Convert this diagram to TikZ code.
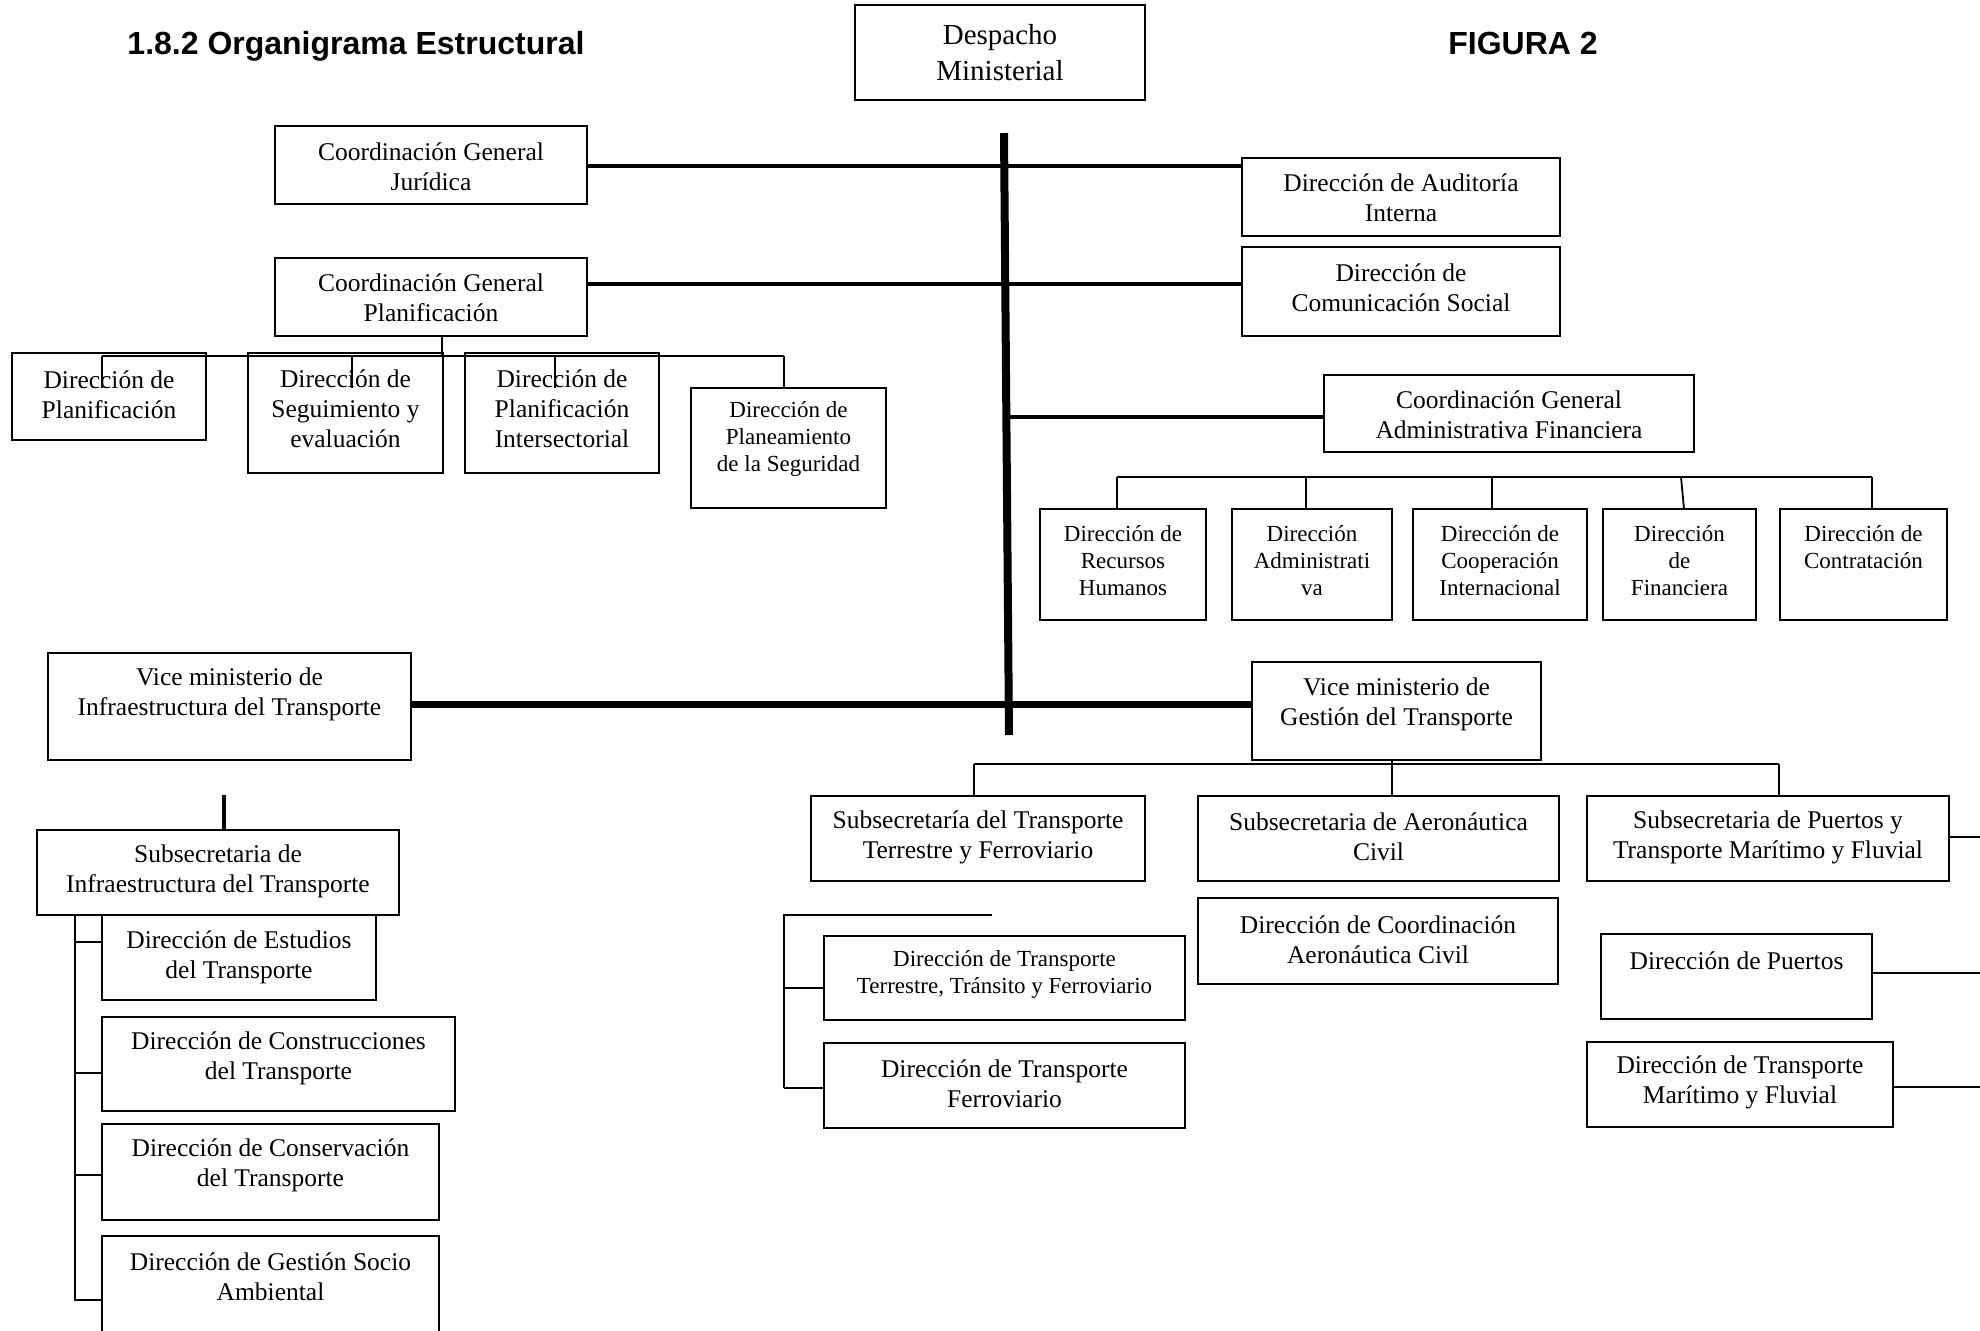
\documentclass[tikz,border=0pt]{standalone}
\usepackage{fontspec}
\setmainfont{Liberation Serif}
\newfontfamily\titlesans{Liberation Sans}
\usetikzlibrary{fit}
\tikzset{
  box/.style={draw, line width=1pt, inner sep=0pt, rectangle},
  txt/.style={inner sep=0pt, align=center},
  fmain/.style={font=\fontsize{12.75}{15}\selectfont},
  fsmall/.style={font=\fontsize{11.5}{13.5}\selectfont},
  fbig/.style={font=\fontsize{14.5}{18}\selectfont},
  ttl/.style={inner sep=0pt, anchor=base, font=\titlesans\bfseries\fontsize{16}{19}\selectfont},
  spine/.style={line width=4pt},
  heavy/.style={line width=3.5pt},
  mid/.style={line width=2pt},
  thin1/.style={line width=0.9pt},
}
\newcommand\obox[8][fmain]{%
  \node[box, fit={(#3,#4) (#5,#6)}] (#2) {};
  \node[txt, #1] (#2t) at ({(#3+#5)/2},#7) {#8};
}
\begin{document}
\begin{tikzpicture}[x=0.5pt, y=-0.5pt]
\useasboundingbox (0,0) rectangle (1980,1330);
\clip (0,0) rectangle (1980,1330);

% titles
\node[ttl] (title) at (356,54) {1.8.2 Organigrama Estructural};
\node[ttl] (fig) at (1523,54) {FIGURA 2};

% boxes
\obox[fbig]{D}{855}{5}{1145}{100}{53}{Despacho\\Ministerial}
\obox{Jur}{275}{126}{587}{204}{167}{Coordinación General\\Jurídica}
\obox{CGP}{275}{258}{587}{336}{298}{Coordinación General\\Planificación}
\obox{Aud}{1242}{158}{1560}{236}{198}{Dirección de Auditoría\\Interna}
\obox{Com}{1242}{247}{1560}{336}{288}{Dirección de\\Comunicación Social}
\obox{CGAF}{1324}{375}{1694}{452}{415}{Coordinación General\\Administrativa Financiera}

\obox{DPl}{12}{353}{206}{440}{395}{Dirección de\\Planificación}
\obox{DSe}{248}{353}{443}{473}{409}{Dirección de\\Seguimiento y\\evaluación}
\obox{DIn}{465}{353}{659}{473}{409}{Dirección de\\Planificación\\Intersectorial}
\obox[fsmall]{DPs}{691}{388}{886}{508}{439}{Dirección de\\Planeamiento\\de la Seguridad}

\obox[fsmall]{RH}{1040}{509}{1206}{620}{561}{Dirección de\\Recursos\\Humanos}
\obox[fsmall]{Adm}{1232}{509}{1392}{620}{561}{Dirección\\Administrati\\va}
\obox[fsmall]{Coop}{1413}{509}{1587}{620}{561}{Dirección de\\Cooperación\\Internacional}
\obox[fsmall]{Fin}{1603}{509}{1756}{620}{561}{Dirección\\de\\Financiera}
\obox[fsmall]{Con}{1780}{509}{1947}{620}{547.5}{Dirección de\\Contratación}

\obox{VI}{48}{653}{411}{760}{694}{Vice ministerio de\\Infraestructura del Transporte}
\obox{VG}{1252}{662}{1541}{760}{704.5}{Vice ministerio de\\Gestión del Transporte}

\obox{STF}{811}{796}{1145}{881}{837}{Subsecretaría del Transporte\\Terrestre y Ferroviario}
\obox{SAC}{1198}{796}{1559}{881}{837}{Subsecretaria de Aeronáutica\\Civil}
\obox{SPT}{1587}{796}{1949}{881}{837}{Subsecretaria de Puertos y\\Transporte Marítimo y Fluvial}
\obox{DCA}{1198}{898}{1558}{984}{940}{Dirección de Coordinación\\Aeronáutica Civil}
\obox[fsmall]{DTT}{824}{936}{1185}{1020}{974.5}{Dirección de Transporte\\Terrestre, Tránsito y Ferroviario}
\obox{DTF}{824}{1043}{1185}{1128}{1083.5}{Dirección de Transporte\\Ferroviario}
\obox{DPu}{1601}{934}{1872}{1019}{961}{Dirección de Puertos}
\obox{DTM}{1587}{1042}{1893}{1127}{1082.5}{Dirección de Transporte\\Marítimo y Fluvial}

\obox{SI}{37}{830}{399}{915}{871.5}{Subsecretaria de\\Infraestructura del Transporte}
\obox{DEs}{102}{915}{376}{1000}{957}{Dirección de Estudios\\del Transporte}
\obox{DCo}{102}{1017}{455}{1111}{1058.5}{Dirección de Construcciones\\del Transporte}
\obox{DCs}{102}{1124}{439}{1220}{1165.5}{Dirección de Conservación\\del Transporte}
\obox{DGs}{102}{1236}{439}{1345}{1277}{Dirección de Gestión Socio\\Ambiental}

% coordinates
\coordinate (spT) at (1004,133);
\coordinate (spB) at (1009,735);
\coordinate (yJ) at (0,166);
\coordinate (yP) at (0,284);
\coordinate (sp3) at (1006,417);
\coordinate (yV) at (0,704);

% spine and main branches
\draw[spine] (spT) -- (spB);
\draw[mid] (Jur.east |- yJ) -- (Aud.west |- yJ);
\draw[mid] (CGP.east |- yP) -- (Com.west |- yP);
\draw[mid] (sp3) -- (CGAF.west |- sp3);
\draw[heavy] (VI.east |- yV) -- (VG.west |- yV);

% Planificacion children
\coordinate (cgpR) at (442,356);
\coordinate (rL) at (102,356);
\coordinate (rR) at (784,356);
\coordinate (d1) at (102,388);
\coordinate (d2t) at (352,356);
\coordinate (d2) at (352,388);
\coordinate (d3t) at (555,356);
\coordinate (d3) at (555,388);
\draw[thin1] (CGP.south -| cgpR) -- (cgpR);
\draw[thin1] (rL) -- (rR);
\draw[thin1] (rL) -- (d1);
\draw[thin1] (d2t) -- (d2);
\draw[thin1] (d3t) -- (d3);
\draw[thin1] (rR) -- (DPs.north -| rR);

% Administrativa children
\coordinate (a1) at (1117,477);
\coordinate (a2) at (1306,477);
\coordinate (a3) at (1492,477);
\coordinate (a4) at (1681,477);
\coordinate (a4b) at (1684,509);
\coordinate (a5) at (1872,477);
\draw[thin1] (a1) -- (a5);
\draw[thin1] (a1) -- (RH.north -| a1);
\draw[thin1] (a2) -- (Adm.north -| a2);
\draw[thin1] (a3) -- (Coop.north -| a3);
\draw[thin1] (a4) -- (a4b);
\draw[thin1] (a5) -- (Con.north -| a5);

% Gestion children
\coordinate (gL) at (974,764);
\coordinate (gM) at (1392,764);
\coordinate (gR) at (1779,764);
\draw[thin1] (gL) -- (gR);
\draw[thin1] (VG.south -| gM) -- (SAC.north -| gM);
\draw[thin1] (gL) -- (STF.north -| gL);
\draw[thin1] (gR) -- (SPT.north -| gR);

% Terrestre bracket
\coordinate (tE) at (992,915);
\coordinate (tC) at (784,915);
\coordinate (tM) at (784,988);
\coordinate (tB) at (784,1088);
\draw[thin1] (tE) -- (tC) -- (tB);
\draw[thin1] (tM) -- (DTT.west |- tM);
\draw[thin1] (tB) -- (DTF.west |- tB);

% Puertos lines to the edge
\coordinate (e1) at (1980,837);
\coordinate (e2) at (1980,973);
\coordinate (e3) at (1980,1087);
\draw[thin1] (SPT.east |- e1) -- (e1);
\draw[thin1] (DPu.east |- e2) -- (e2);
\draw[thin1] (DTM.east |- e3) -- (e3);

% Infraestructura
\coordinate (iT) at (224,795);
\draw[mid] (iT) -- (SI.north -| iT);
\coordinate (i1) at (75,942);
\coordinate (i2) at (75,1073);
\coordinate (i3) at (75,1175);
\coordinate (i4) at (75,1300);
\draw[thin1] (SI.south -| i4) -- (i4) -- (DGs.west |- i4);
\draw[thin1] (i1) -- (DEs.west |- i1);
\draw[thin1] (i2) -- (DCo.west |- i2);
\draw[thin1] (i3) -- (DCs.west |- i3);
\end{tikzpicture}
\end{document}
